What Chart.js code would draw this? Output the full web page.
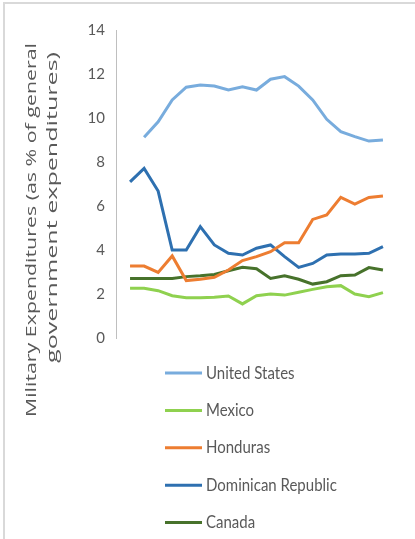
<!DOCTYPE html>
<html>
<head>
<meta charset="utf-8">
<script src="https://cdn.jsdelivr.net/npm/chart.js@4"></script>
<style>
  html, body { margin: 0; padding: 0; background: #fff; }
  #wrap { position: relative; width: 415px; height: 539px; }
  canvas { display: block; }
</style>
</head>
<body>
<div id="wrap"><canvas id="c" width="415" height="539"></canvas></div>
<script>
// Military expenditures as % of general government expenditures, 19 yearly observations
const periods = [0, 1, 2, 3, 4, 5, 6, 7, 8, 9, 10, 11, 12, 13, 14, 15, 16, 17, 18];
const unitedStates = [null, 9.12, 9.83, 10.82, 11.4, 11.5, 11.45, 11.27, 11.42, 11.27, 11.76, 11.88, 11.45, 10.82, 9.94, 9.38, 9.15, 8.95, 9.0];
const mexico = [2.26, 2.26, 2.15, 1.92, 1.83, 1.83, 1.85, 1.91, 1.55, 1.92, 2.0, 1.95, 2.08, 2.21, 2.33, 2.38, 2.0, 1.88, 2.06];
const honduras = [3.27, 3.27, 2.98, 3.73, 2.61, 2.67, 2.76, 3.09, 3.52, 3.7, 3.92, 4.33, 4.33, 5.39, 5.59, 6.39, 6.09, 6.39, 6.45];
const dominicanRepublic = [7.1, 7.71, 6.68, 4.0, 4.0, 5.06, 4.23, 3.85, 3.77, 4.08, 4.23, 3.7, 3.21, 3.39, 3.77, 3.82, 3.82, 3.85, 4.15];
const canada = [2.71, 2.71, 2.71, 2.71, 2.79, 2.83, 2.89, 3.06, 3.21, 3.15, 2.71, 2.83, 2.67, 2.45, 2.56, 2.83, 2.86, 3.2, 3.09];
const yTicks = [0, 2, 4, 6, 8, 10, 12, 14];
const axisTitle = ["Military Expenditures (as % of general", "government expenditures)"];

const seriesList = [
  { label: "United States", values: unitedStates, color: "#78ACDD" },
  { label: "Mexico", values: mexico, color: "#8FD14F" },
  { label: "Honduras", values: honduras, color: "#ED7D31" },
  { label: "Dominican Republic", values: dominicanRepublic, color: "#2E70B0" },
  { label: "Canada", values: canada, color: "#47722B" }
];

const textColor = "#595959";
const uiFont = "Lato, 'Open Sans', sans-serif";

// vertical legend and two-line rotated axis title, plus the frame edges
const decorations = {
  id: "decorations",
  beforeDraw(chart) {
    const ctx = chart.ctx;
    ctx.save();
    ctx.strokeStyle = "#D9D9D9";
    ctx.lineWidth = 2;
    ctx.beginPath();
    ctx.moveTo(4, 539);
    ctx.lineTo(4, 3);
    ctx.lineTo(415, 3);
    ctx.stroke();
    ctx.restore();
  },
  afterDraw(chart) {
    const ctx = chart.ctx;
    ctx.save();
    // axis title: tall lettering, each line stretched along its run
    ctx.fillStyle = textColor;
    ctx.font = "14px 'Open Sans', sans-serif";
    ctx.textAlign = "center";
    ctx.textBaseline = "alphabetic";
    const titleLines = [
      { x: 36, y: 230, length: 374 },
      { x: 56.5, y: 207.5, length: 311 }
    ];
    axisTitle.forEach((line, i) => {
      const pos = titleLines[i];
      const stretch = pos.length / ctx.measureText(line).width;
      ctx.save();
      ctx.translate(pos.x, pos.y);
      ctx.rotate(-Math.PI / 2);
      ctx.scale(stretch, 1);
      ctx.fillText(line, 0, 0);
      ctx.restore();
    });
    // legend
    ctx.font = "15px " + uiFont;
    ctx.textAlign = "left";
    ctx.textBaseline = "middle";
    chart.data.datasets.forEach((ds, i) => {
      const y = 373 + i * 37.4;
      ctx.strokeStyle = ds.borderColor;
      ctx.lineWidth = 3;
      ctx.beginPath();
      ctx.moveTo(165, y);
      ctx.lineTo(202, y);
      ctx.stroke();
      ctx.save();
      ctx.translate(206, y);
      ctx.scale(1, 1.16);
      ctx.fillStyle = textColor;
      ctx.fillText(ds.label, 0, 0);
      ctx.restore();
    });
    ctx.restore();
  }
};

new Chart(document.getElementById("c"), {
  type: "line",
  data: {
    datasets: seriesList.map(s => ({
      label: s.label,
      data: periods.map((p, i) => ({ x: p, y: s.values[i] })),
      borderColor: s.color,
      backgroundColor: s.color,
      borderWidth: 3,
      pointRadius: 0,
      tension: 0,
      spanGaps: false
    }))
  },
  options: {
    responsive: false,
    animation: false,
    events: [],
    layout: { padding: { left: 0, right: 18, top: 30, bottom: 201 } },
    plugins: { legend: { display: false }, tooltip: { enabled: false } },
    scales: {
      x: {
        type: "linear",
        min: -1,
        max: 19,
        display: false
      },
      y: {
        min: 0,
        max: 14,
        afterBuildTicks(scale) { scale.ticks = yTicks.map(v => ({ value: v })); },
        afterFit(scale) { scale.width = 116; },
        ticks: { color: textColor, font: { family: uiFont, size: 15 }, padding: 11 },
        grid: { display: false, drawTicks: false },
        border: { display: true, color: "#BFBFBF", width: 1 }
      }
    }
  },
  plugins: [decorations]
});
</script>
</body>
</html>
